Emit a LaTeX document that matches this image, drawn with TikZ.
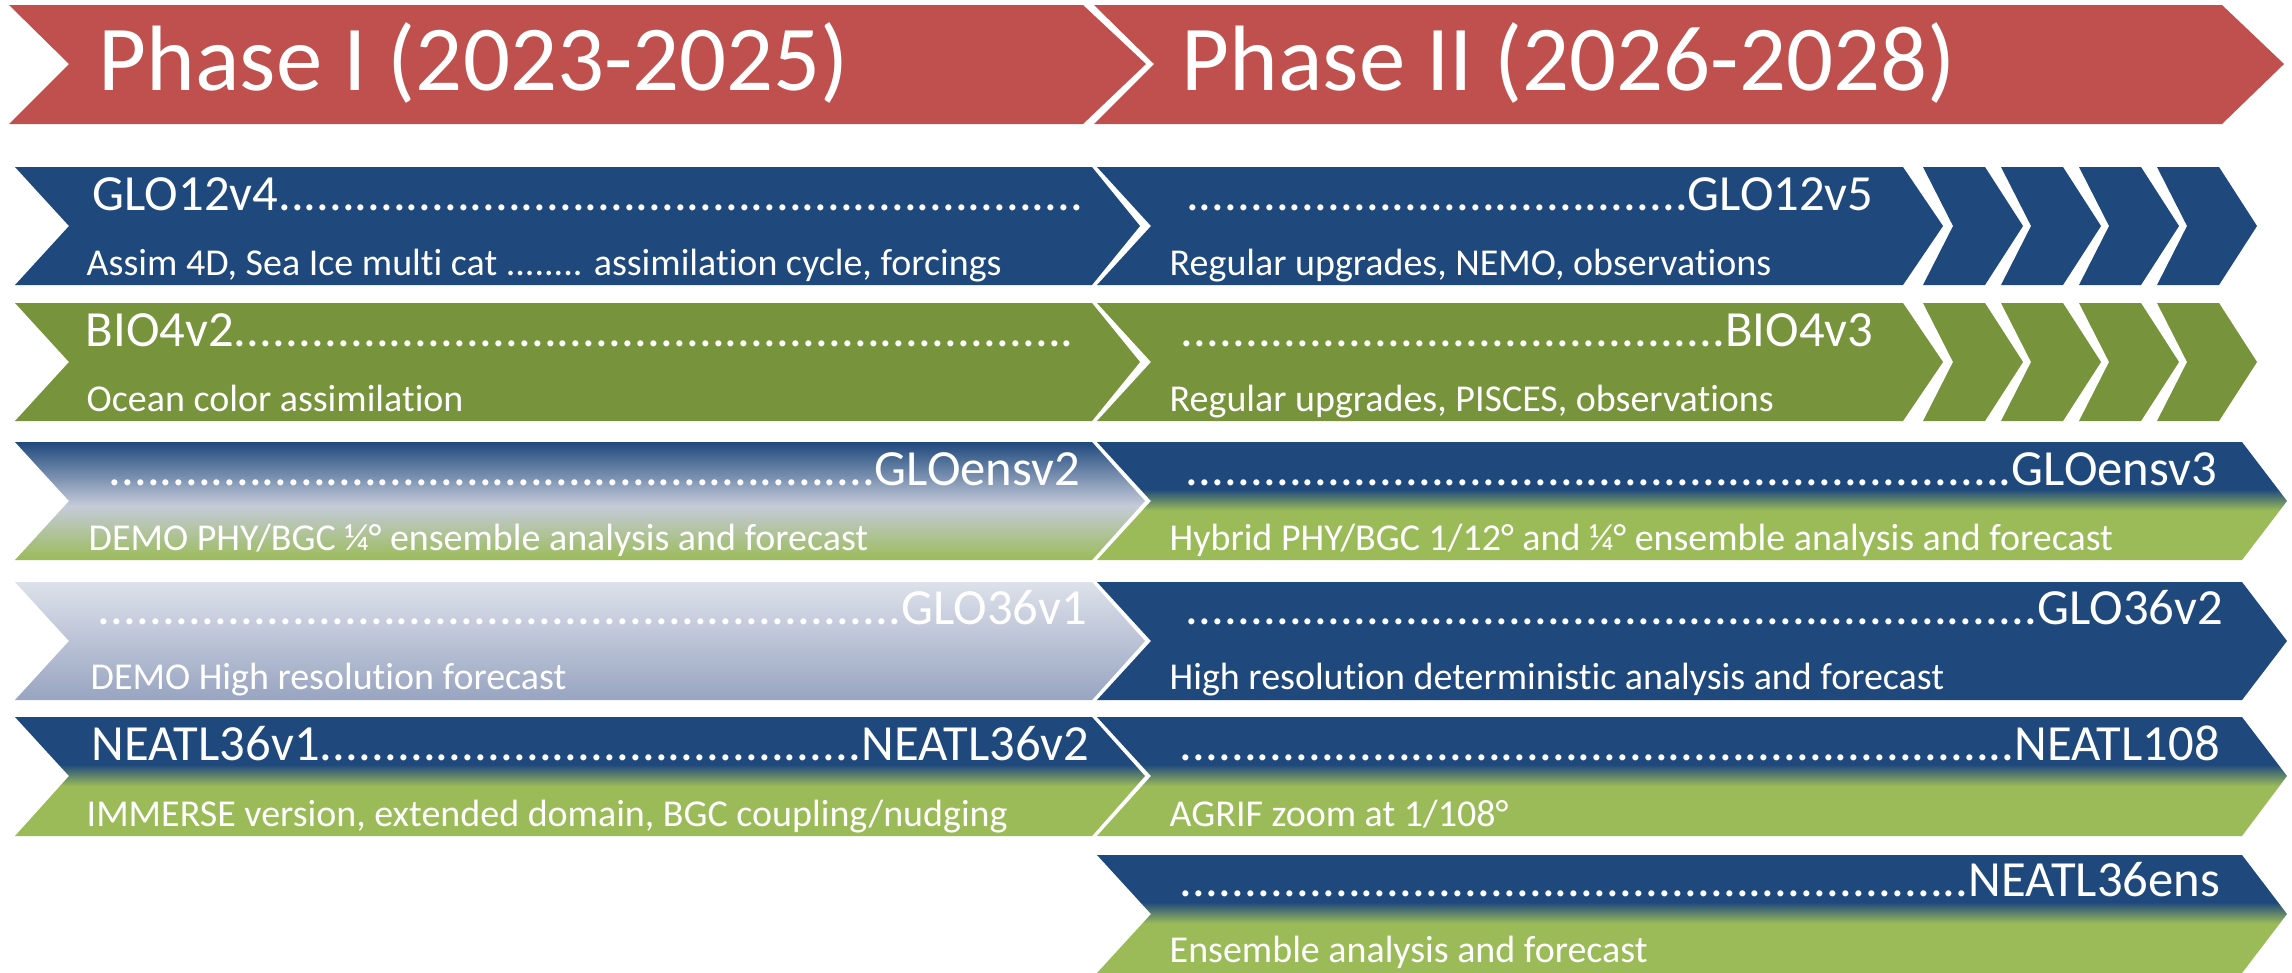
\documentclass[tikz,border=0pt]{standalone}
\usepackage{fontspec}
\setmainfont[Ligatures=NoCommon]{Carlito}
\usepackage{xcolor}
\usepackage{tikz}

\definecolor{phasered}{HTML}{C0504D}
\definecolor{oceanblue}{HTML}{1F497D}
\definecolor{biogreen}{HTML}{77933C}
\definecolor{leafgreen}{HTML}{9BBB59}
\definecolor{mistblue}{HTML}{C5CBDA}
\definecolor{paleblue}{HTML}{DDE1EA}
\definecolor{greyblue}{HTML}{98A4C1}

\pgfdeclareverticalshading{bluegreen}{100bp}{color(0bp)=(leafgreen); color(46bp)=(leafgreen); color(55bp)=(oceanblue); color(100bp)=(oceanblue)}
\pgfdeclareverticalshading{bluemist}{100bp}{color(0bp)=(leafgreen); color(25bp)=(leafgreen); color(48bp)=(mistblue); color(75bp)=(oceanblue); color(100bp)=(oceanblue)}

\newcommand{\dotrun}{\xleaders\hbox{.}\hfill}

\begin{document}
\begin{tikzpicture}[x=0.01cm, y=-0.01cm,
  phasetext/.style={text=white, inner sep=0pt, anchor=base west, font=\fontsize{26.4}{30}\selectfont},
  modtext/.style={text=white, inner sep=0pt, font=\fontsize{14.4}{17}\selectfont},
  desctext/.style={text=white, inner sep=0pt, anchor=base west, font=\fontsize{10.8}{13}\selectfont}]
  \useasboundingbox (0,0) rectangle (2292,972);

  % phases
  \fill[phasered] (9,5) -- (1083,5) -- (1146,64) -- (1083,124) -- (9,124) -- (69,64) -- cycle;
  \fill[phasered] (1094,5) -- (2222,5) -- (2284,64) -- (2222,124) -- (1094,124) -- (1154,64) -- cycle;
  \node[phasetext] (phase1) at (98,90) {Phase I (2023-2025)};
  \node[phasetext] (phase2) at (1181,90) {Phase II (2026-2028)};

  % GLO12 and BIO4 rows
  \fill[oceanblue] (15,167) -- (1092,167) -- (1140,226) -- (1092,285) -- (15,285) -- (69,226) -- cycle;
  \fill[oceanblue] (1097,167) -- (1903,167) -- (1943,226) -- (1903,285) -- (1097,285) -- (1151,226) -- cycle;
  \fill[biogreen] (15,303) -- (1092,303) -- (1140,362) -- (1092,421) -- (15,421) -- (69,362) -- cycle;
  \fill[biogreen] (1097,303) -- (1903,303) -- (1943,362) -- (1903,421) -- (1097,421) -- (1151,362) -- cycle;
  \foreach \i in {0,...,3} {
    \fill[oceanblue] ({1923+78*\i},167) -- ++(62,0) -- ++(38,59) -- ++(-38,59) -- ++(-62,0) -- ++(30,-59) -- cycle;
    \fill[biogreen] ({1923+78*\i},303) -- ++(62,0) -- ++(38,59) -- ++(-38,59) -- ++(-62,0) -- ++(30,-59) -- cycle;
  }
  \node[modtext, anchor=base west] (glo12v4) at (92,210) {\hbox to 9.91cm{GLO12v4\dotrun}};
  \node[modtext, anchor=base east] (glo12v5) at (1875,210) {\hbox to 6.88cm{\dotrun GLO12v5}};
  \node[desctext] (glo12v4d) at (86,275) {Assim 4D, Sea Ice multi cat ........ assimilation cycle, forcings};
  \node[desctext] (glo12v5d) at (1169,275) {Regular upgrades, NEMO, observations};
  \node[modtext, anchor=base west] (bio4v2) at (85,346) {\hbox to 9.89cm{BIO4v2\dotrun}};
  \node[modtext, anchor=base east] (bio4v3) at (1875,346) {\hbox to 6.94cm{\dotrun BIO4v3}};
  \node[desctext] (bio4v2d) at (86,411) {Ocean color assimilation};
  \node[desctext] (bio4v3d) at (1169,411) {Regular upgrades, PISCES, observations};

  % ensemble row
  \shade[shading=bluemist] (15,442) -- (1092,442) -- (1145,501) -- (1092,560) -- (15,560) -- (69,501) -- cycle;
  \shade[shading=bluegreen] (1097,442) -- (2242,442) -- (2287,501) -- (2242,560) -- (1097,560) -- (1151,501) -- cycle;
  \node[modtext, anchor=base east] (gloensv2) at (1082,485) {\hbox to 9.72cm{\dotrun GLOensv2}};
  \node[modtext, anchor=base east] (gloensv3) at (2219,485) {\hbox to 10.32cm{\dotrun GLOensv3}};
  \node[desctext] (gloensv2d) at (88,550) {DEMO PHY/BGC ¼° ensemble analysis and forecast};
  \node[desctext] (gloensv3d) at (1169,550) {Hybrid PHY/BGC 1/12° and ¼° ensemble analysis and forecast};

  % GLO36 row
  \shade[top color=paleblue, bottom color=greyblue] (15,582) -- (1092,582) -- (1145,641) -- (1092,700) -- (15,700) -- (69,641) -- cycle;
  \fill[oceanblue] (1097,582) -- (2242,582) -- (2287,641) -- (2242,700) -- (1097,700) -- (1151,641) -- cycle;
  \node[modtext, anchor=base east] (glo36v1) at (1089,624) {\hbox to 9.90cm{\dotrun GLO36v1}};
  \node[modtext, anchor=base east] (glo36v2) at (2225,624) {\hbox to 10.38cm{\dotrun GLO36v2}};
  \node[desctext] (glo36v1d) at (90,689) {DEMO High resolution forecast};
  \node[desctext] (glo36v2d) at (1169,689) {High resolution deterministic analysis and forecast};

  % NEATL rows
  \shade[shading=bluegreen] (15,717) -- (1092,717) -- (1145,776) -- (1092,836) -- (15,836) -- (69,776) -- cycle;
  \shade[shading=bluegreen] (1097,717) -- (2242,717) -- (2287,776) -- (2242,836) -- (1097,836) -- (1151,776) -- cycle;
  \shade[shading=bluegreen] (1097,855) -- (2242,855) -- (2287,914) -- (2242,973) -- (1097,973) -- (1151,914) -- cycle;
  \node[modtext, anchor=base west] (neatl36v1) at (91,760) {\hbox to 9.98cm{NEATL36v1\dotrun NEATL36v2}};
  \node[modtext, anchor=base east] (neatl108) at (2222,760) {\hbox to 10.41cm{\dotrun NEATL108}};
  \node[modtext, anchor=base east] (neatl36ens) at (2222,896) {\hbox to 10.41cm{\dotrun NEATL36ens}};
  \node[desctext] (neatl36d) at (86,826) {IMMERSE version, extended domain, BGC coupling/nudging};
  \node[desctext] (neatl108d) at (1169,826) {AGRIF zoom at 1/108°};
  \node[desctext] (neatl36ensd) at (1169,962) {Ensemble analysis and forecast};
\end{tikzpicture}
\end{document}
